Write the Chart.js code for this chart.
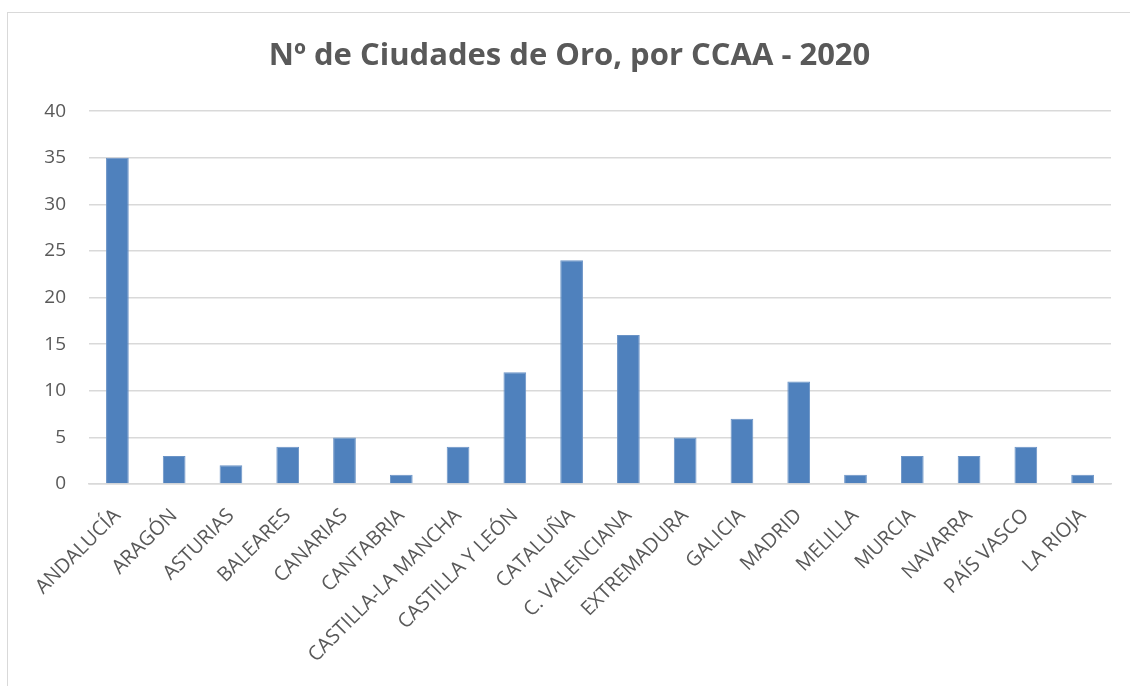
<!DOCTYPE html>
<html>
<head>
<meta charset="utf-8">
<script src="https://cdn.jsdelivr.net/npm/chart.js@4"></script>
<style>
  html, body { margin: 0; padding: 0; background: #fff; overflow: hidden; }
  #frame { position: absolute; left: 7px; top: 12px; width: 1140px; height: 700px; border: 1.5px solid #d9d9d9; }
  #wrap { position: absolute; left: 0; top: 0; width: 1130px; height: 686px; }
</style>
</head>
<body>
<div id="frame"></div>
<div id="wrap"><canvas id="ciudadesChart"></canvas></div>
<script>
var comunidades = ["ANDALUCÍA", "ARAGÓN", "ASTURIAS", "BALEARES", "CANARIAS", "CANTABRIA",
    "CASTILLA-LA MANCHA", "CASTILLA Y LEÓN", "CATALUÑA", "C. VALENCIANA", "EXTREMADURA",
    "GALICIA", "MADRID", "MELILLA", "MURCIA", "NAVARRA", "PAÍS VASCO", "LA RIOJA"];
var ciudades = [35, 3, 2, 4, 5, 1, 4, 12, 24, 16, 5, 7, 11, 1, 3, 3, 4, 1];
var yMin = 0, yMax = 40, yStep = 5;

var ctx = document.getElementById("ciudadesChart").getContext("2d");
var grisTexto = '#595959';

var barChart = new Chart(ctx, {
    type: 'bar',
    data: {
        labels: comunidades,
        datasets: [{
            label: 'Nº de Ciudades de Oro',
            data: ciudades,
            backgroundColor: '#4f81bd',
            borderColor: '#6a93c6',
            borderWidth: 1,
            categoryPercentage: 1,
            barPercentage: 0.4
        }]
    },
    options: {
        responsive: true,
        maintainAspectRatio: false,
        animation: false,
        layout: { padding: { left: 28, right: 19, top: 0, bottom: 0 } },
        plugins: {
            legend: { display: false },
            tooltip: { enabled: false },
            title: {
                display: true,
                text: 'Nº de Ciudades de Oro, por CCAA - 2020',
                color: grisTexto,
                font: { family: "'Open Sans', sans-serif", size: 31, weight: 'bold' },
                padding: { top: 38, bottom: 36 }
            }
        },
        scales: {
            x: {
                grid: { display: false },
                border: { color: '#d9d9d9', width: 1.5 },
                ticks: {
                    color: grisTexto,
                    font: { family: "'Open Sans', sans-serif", size: 20 },
                    minRotation: 45,
                    maxRotation: 45,
                    autoSkip: false,
                    padding: 12
                },
                afterFit: function (scale) { scale.height = 202; }
            },
            y: {
                min: yMin,
                max: yMax,
                grid: { color: '#d9d9d9', lineWidth: 1.5, drawTicks: false },
                border: { display: false },
                ticks: {
                    stepSize: yStep,
                    color: grisTexto,
                    font: { family: "'Open Sans', sans-serif", size: 19 },
                    padding: 23
                },
                afterFit: function (scale) { scale.width = 61; }
            }
        }
    }
});
</script>
</body>
</html>
